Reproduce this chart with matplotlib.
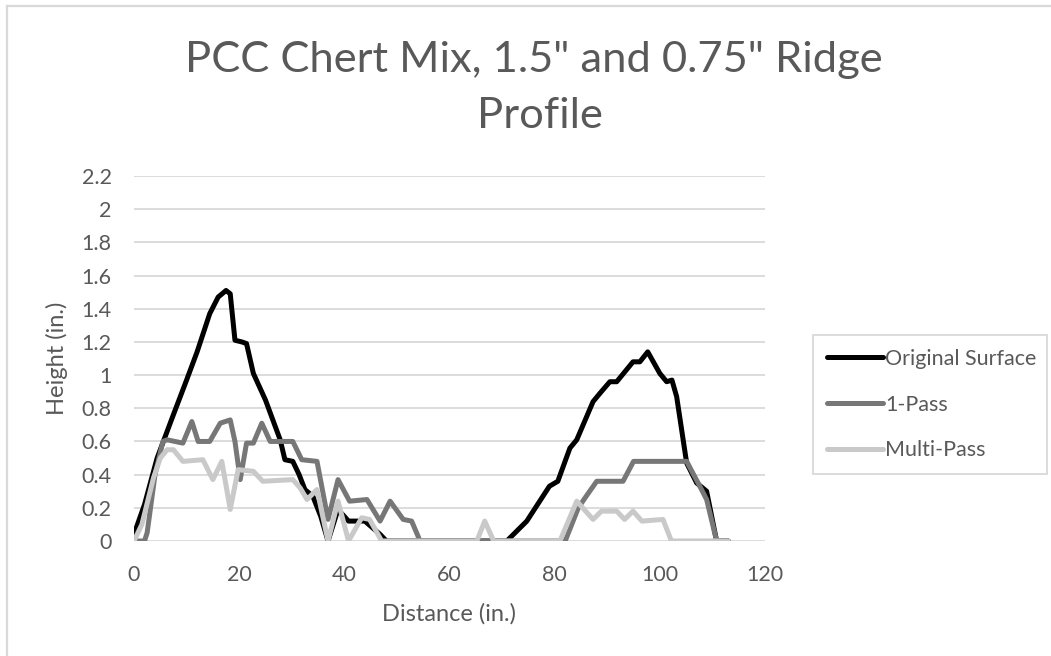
import matplotlib
matplotlib.use("Agg")
import matplotlib.pyplot as plt
from matplotlib.lines import Line2D

plt.rcParams['font.family'] = ['Lato', 'DejaVu Sans']

# profile readings (in.)
orig_x = [0, 2, 4.4, 7, 10, 12, 14.4, 16, 17.5, 18.3, 19.2, 20.5, 21.4, 22.7, 25, 27.8, 28.7,
          30.2, 31.4, 32.5, 34, 35.5, 36.9, 38.8, 40.8, 43.9, 46.8, 48, 55, 60, 65, 70.9, 74.7,
          79, 80.6, 82.9, 84.2, 87.3, 88.6, 90.5, 91.8, 94.9, 96.2, 97.7, 100, 101.3, 102.3,
          103.2, 105.1, 107, 108.9, 110.8, 113]
orig_y = [0.04, 0.22, 0.5, 0.72, 0.97, 1.14, 1.37, 1.47, 1.51, 1.49, 1.21, 1.2, 1.19, 1.01, 0.85,
          0.61, 0.49, 0.48, 0.4, 0.31, 0.27, 0.15, 0.0, 0.19, 0.12, 0.12, 0.04, 0.0, 0, 0, 0, 0,
          0.12, 0.33, 0.36, 0.56, 0.61, 0.84, 0.89, 0.96, 0.96, 1.08, 1.08, 1.14, 1.01, 0.96, 0.97,
          0.87, 0.47, 0.35, 0.3, 0.0, 0]

pass1_x = [0, 2, 2.5, 4, 5.5, 6.3, 9.3, 11, 12.2, 14.4, 16.4, 18.3, 19.2, 20.2, 21.4, 22.7, 24.3,
           25.9, 30.2, 31.9, 34.8, 36.9, 38.8, 41, 44.3, 46.8, 48.7, 51.2, 52.8, 54.4, 60, 70,
           82, 84.5, 86, 88, 93, 94, 95, 105.1, 107.6, 108.9, 110.8, 113]
pass1_y = [0, 0, 0.05, 0.4, 0.6, 0.61, 0.59, 0.72, 0.6, 0.6, 0.71, 0.73, 0.6, 0.37, 0.59, 0.59,
           0.71, 0.6, 0.6, 0.49, 0.48, 0.13, 0.37, 0.24, 0.25, 0.12, 0.24, 0.13, 0.12, 0, 0, 0,
           0, 0.2, 0.27, 0.36, 0.36, 0.42, 0.48, 0.48, 0.33, 0.25, 0, 0]

multi_x = [0, 1.5, 3.7, 5, 6.3, 7.5, 9.3, 13.1, 15, 16.7, 18.3, 19.8, 22.7, 24.5, 30.2, 31.6,
           32.9, 34.8, 36.9, 38.8, 40.8, 43.3, 44.8, 47.1, 65.2, 66.7, 68.4, 81, 84.2, 87.3,
           88.9, 91.8, 93.3, 94.9, 96.6, 100.6, 102.2, 113]
multi_y = [0, 0.1, 0.38, 0.5, 0.55, 0.55, 0.48, 0.49, 0.37, 0.48, 0.19, 0.43, 0.42, 0.36, 0.37,
           0.32, 0.25, 0.31, 0.0, 0.24, 0.0, 0.14, 0.13, 0, 0, 0.12, 0, 0, 0.24, 0.13, 0.18,
           0.18, 0.13, 0.18, 0.12, 0.13, 0, 0]

xticks = [0, 20, 40, 60, 80, 100, 120]
yticks = [0, 0.2, 0.4, 0.6, 0.8, 1, 1.2, 1.4, 1.6, 1.8, 2, 2.2]
ytick_labels = ['0', '0.2', '0.4', '0.6', '0.8', '1', '1.2', '1.4', '1.6', '1.8', '2', '2.2']

W, H = 1051, 656
txt = '#595959'
gridc = '#d9d9d9'

fig = plt.figure(figsize=(W / 100, H / 100), dpi=100)
ax = fig.add_axes([134 / W, 1 - 541 / H, (765 - 134) / W, (541 - 176) / H])

lw = 3.6
ax.plot(orig_x, orig_y, color='black', lw=lw, solid_joinstyle='round', solid_capstyle='round',
        label='Original Surface', zorder=3)
ax.plot(pass1_x, pass1_y, color='#777777', lw=lw, solid_joinstyle='round', solid_capstyle='round',
        label='1-Pass', zorder=4)
ax.plot(multi_x, multi_y, color='#c9c9c9', lw=lw, solid_joinstyle='round', solid_capstyle='round',
        label='Multi-Pass', zorder=5)

ax.set_xlim(0, 120)
ax.set_ylim(0, 2.2)
ax.set_xticks(xticks)
ax.set_yticks(yticks)
ax.set_yticklabels(ytick_labels)
ax.tick_params(length=0, labelsize=15.5, labelcolor=txt)
ax.tick_params(axis='x', pad=17)
ax.tick_params(axis='y', pad=16)
ax.yaxis.grid(True, color=gridc, lw=1.3)
ax.set_axisbelow(True)
for s in ax.spines.values():
    s.set_visible(False)

ax.set_xlabel('Distance (in.)', fontsize=17, color=txt, labelpad=13)
ax.set_ylabel('Height (in.)', fontsize=17, color=txt, labelpad=10)

# title, two lines like excel wraps it
fig.text(534 / W, 1 - 72 / H, 'PCC Chert Mix, 1.5" and 0.75" Ridge', ha='center', va='baseline',
         fontsize=31.3, color=txt)
fig.text(540 / W, 1 - 128 / H, 'Profile', ha='center', va='baseline', fontsize=31.3, color=txt)

leg = fig.legend(loc='upper left', bbox_to_anchor=(813 / W, 1 - 471 / H, (1047 - 813) / W, (471 - 335) / H),
                 mode='expand', borderaxespad=0, fontsize=15.5, handlelength=2.6, handletextpad=0.1,
                 labelspacing=1.19, borderpad=0.65, fancybox=False, framealpha=1, edgecolor=gridc)
leg.get_frame().set_linewidth(1.3)
for t in leg.get_texts():
    t.set_color(txt)

# chart area border (only left/top show in the original)
fig.add_artist(Line2D([7 / W, 7 / W], [0, 1 - 6 / H], color=gridc, lw=1.6))
fig.add_artist(Line2D([7 / W, 1], [1 - 6 / H, 1 - 6 / H], color=gridc, lw=1.6))

plt.savefig('out.png', dpi=100)
